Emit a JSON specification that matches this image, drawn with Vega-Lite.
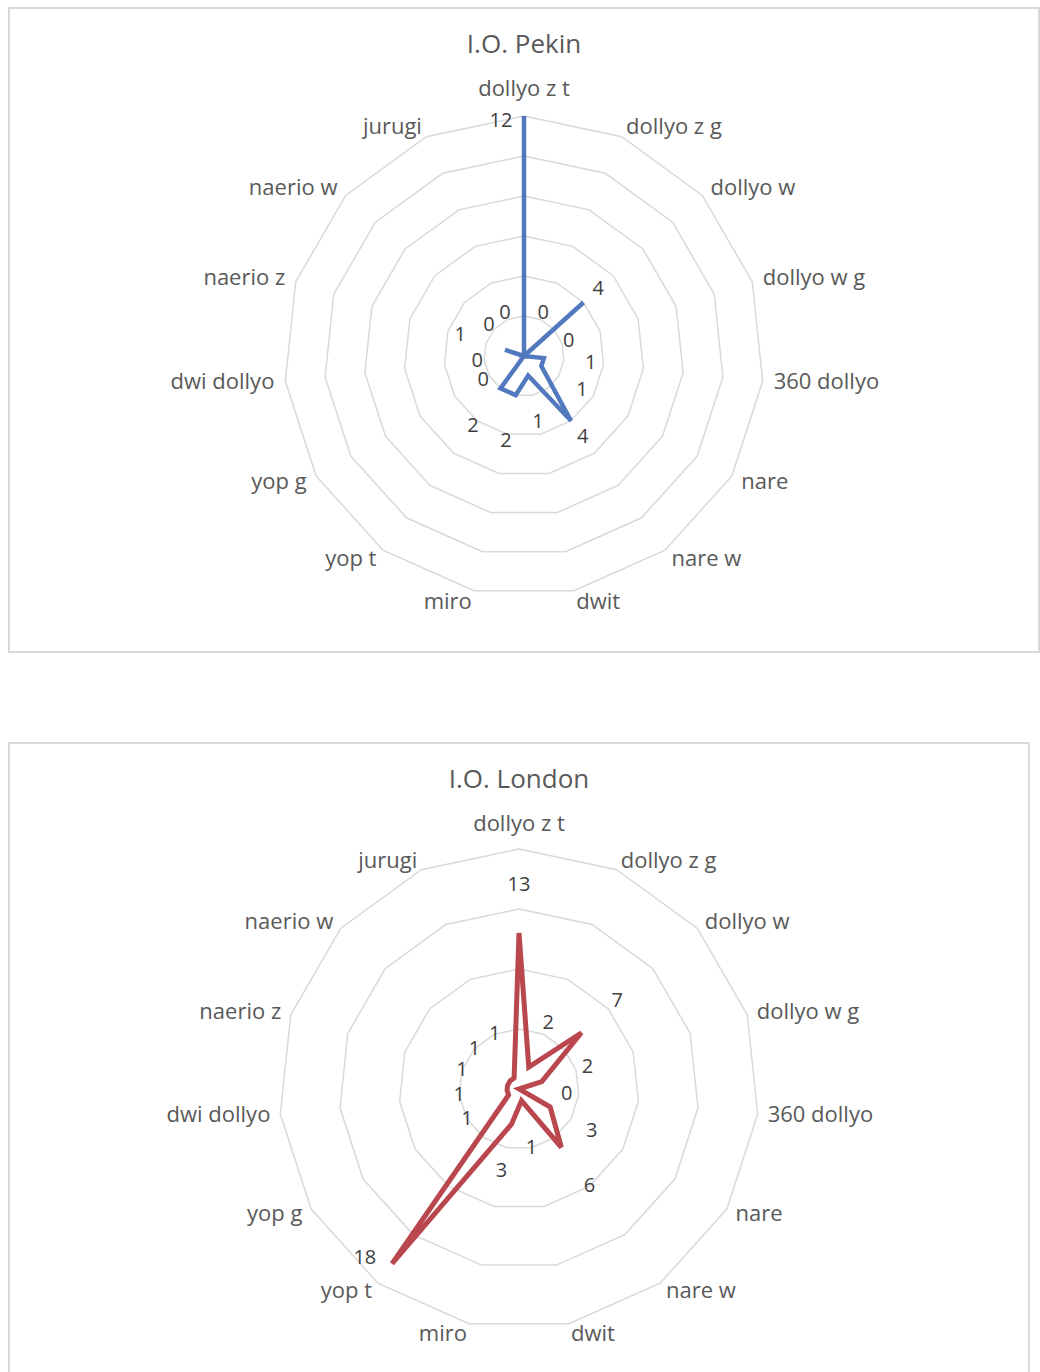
{
  "$schema": "https://vega.github.io/schema/vega-lite/v6.json",
  "padding": {"left": 8, "top": 7, "right": 0, "bottom": 0},
  "spacing": 89,
  "config": {
    "view": {"stroke": "#d9d9d9", "strokeWidth": 2},
    "font": "Open Sans",
    "title": {"fontSize": 26, "fontWeight": "normal", "color": "#595959", "font": "Open Sans"},
    "text": {"font": "Open Sans"}
  },
  "datasets": {
    "scores": [
      {"chart": "Pekin", "idx": 0, "cat": "dollyo z t", "value": 12},
      {"chart": "Pekin", "idx": 1, "cat": "dollyo z g", "value": 0},
      {"chart": "Pekin", "idx": 2, "cat": "dollyo w", "value": 4},
      {"chart": "Pekin", "idx": 3, "cat": "dollyo w g", "value": 0},
      {"chart": "Pekin", "idx": 4, "cat": "360 dollyo", "value": 1},
      {"chart": "Pekin", "idx": 5, "cat": "nare", "value": 1},
      {"chart": "Pekin", "idx": 6, "cat": "nare w", "value": 4},
      {"chart": "Pekin", "idx": 7, "cat": "dwit", "value": 1},
      {"chart": "Pekin", "idx": 8, "cat": "miro", "value": 2},
      {"chart": "Pekin", "idx": 9, "cat": "yop t", "value": 2},
      {"chart": "Pekin", "idx": 10, "cat": "yop g", "value": 0},
      {"chart": "Pekin", "idx": 11, "cat": "dwi dollyo", "value": 0},
      {"chart": "Pekin", "idx": 12, "cat": "naerio z", "value": 1},
      {"chart": "Pekin", "idx": 13, "cat": "naerio w", "value": 0},
      {"chart": "Pekin", "idx": 14, "cat": "jurugi", "value": 0},
      {"chart": "London", "idx": 0, "cat": "dollyo z t", "value": 13},
      {"chart": "London", "idx": 1, "cat": "dollyo z g", "value": 2},
      {"chart": "London", "idx": 2, "cat": "dollyo w", "value": 7},
      {"chart": "London", "idx": 3, "cat": "dollyo w g", "value": 2},
      {"chart": "London", "idx": 4, "cat": "360 dollyo", "value": 0},
      {"chart": "London", "idx": 5, "cat": "nare", "value": 3},
      {"chart": "London", "idx": 6, "cat": "nare w", "value": 6},
      {"chart": "London", "idx": 7, "cat": "dwit", "value": 1},
      {"chart": "London", "idx": 8, "cat": "miro", "value": 3},
      {"chart": "London", "idx": 9, "cat": "yop t", "value": 18},
      {"chart": "London", "idx": 10, "cat": "yop g", "value": 1},
      {"chart": "London", "idx": 11, "cat": "dwi dollyo", "value": 1},
      {"chart": "London", "idx": 12, "cat": "naerio z", "value": 1},
      {"chart": "London", "idx": 13, "cat": "naerio w", "value": 1},
      {"chart": "London", "idx": 14, "cat": "jurugi", "value": 1}
    ],
    "rings": [
      {"chart": "Pekin", "level": 2, "idx": [0,1,2,3,4,5,6,7,8,9,10,11,12,13,14]},
      {"chart": "Pekin", "level": 4, "idx": [0,1,2,3,4,5,6,7,8,9,10,11,12,13,14]},
      {"chart": "Pekin", "level": 6, "idx": [0,1,2,3,4,5,6,7,8,9,10,11,12,13,14]},
      {"chart": "Pekin", "level": 8, "idx": [0,1,2,3,4,5,6,7,8,9,10,11,12,13,14]},
      {"chart": "Pekin", "level": 10, "idx": [0,1,2,3,4,5,6,7,8,9,10,11,12,13,14]},
      {"chart": "Pekin", "level": 12, "idx": [0,1,2,3,4,5,6,7,8,9,10,11,12,13,14]},
      {"chart": "London", "level": 5, "idx": [0,1,2,3,4,5,6,7,8,9,10,11,12,13,14]},
      {"chart": "London", "level": 10, "idx": [0,1,2,3,4,5,6,7,8,9,10,11,12,13,14]},
      {"chart": "London", "level": 15, "idx": [0,1,2,3,4,5,6,7,8,9,10,11,12,13,14]},
      {"chart": "London", "level": 20, "idx": [0,1,2,3,4,5,6,7,8,9,10,11,12,13,14]}
    ]
  },
  "vconcat": [
    {
      "width": 1030,
      "height": 644,
      "title": {"text": "I.O. Pekin", "offset": -50, "anchor": "middle"},
      "layer": [
        {
          "data": {"name": "rings"},
          "transform": [
            {"filter": "datum.chart == 'Pekin'"},
            {"flatten": ["idx"]},
            {"calculate": "datum.idx * 2 * PI / 15", "as": "a"},
            {"calculate": "datum.level * 20 * sin(datum.a)", "as": "x"},
            {"calculate": "datum.level * 20 * cos(datum.a)", "as": "y"}
          ],
          "mark": {"type": "line", "interpolate": "linear-closed", "stroke": "#d9d9d9", "strokeWidth": 1.5},
          "encoding": {
            "x": {"field": "x", "type": "quantitative", "scale": {"domain": [-515, 515], "nice": false, "zero": false}, "axis": null},
            "y": {"field": "y", "type": "quantitative", "scale": {"domain": [-296, 348], "nice": false, "zero": false}, "axis": null},
            "detail": {"field": "level"},
            "order": {"field": "idx"}
          }
        },
        {
          "data": {"name": "scores"},
          "transform": [
            {"filter": "datum.chart == 'Pekin'"},
            {"calculate": "datum.idx * 2 * PI / 15", "as": "a"},
            {"calculate": "datum.value * 20 * sin(datum.a)", "as": "x"},
            {"calculate": "datum.value * 20 * cos(datum.a)", "as": "y"}
          ],
          "mark": {"type": "line", "interpolate": "linear-closed", "stroke": "#5279BE", "strokeWidth": 4.5},
          "encoding": {
            "x": {"field": "x", "type": "quantitative", "axis": null},
            "y": {"field": "y", "type": "quantitative", "axis": null},
            "order": {"field": "idx"}
          }
        },
        {
          "data": {"name": "scores"},
          "transform": [
            {"filter": "datum.chart == 'Pekin' && datum.idx == 0"},
            {"calculate": "0", "as": "x"},
            {"calculate": "267", "as": "y"}
          ],
          "mark": {"type": "text", "align": "center", "baseline": "middle", "fontSize": 22, "color": "#595959"},
          "encoding": {
            "x": {"field": "x", "type": "quantitative"},
            "y": {"field": "y", "type": "quantitative"},
            "text": {"field": "cat"}
          }
        },
        {
          "data": {"name": "scores"},
          "transform": [
            {"filter": "datum.chart == 'Pekin' && datum.idx > 0 && datum.idx < 8"},
            {"calculate": "datum.idx * 2 * PI / 15", "as": "a"},
            {"calculate": "251 * sin(datum.a)", "as": "x"},
            {"calculate": "251 * cos(datum.a)", "as": "y"}
          ],
          "mark": {"type": "text", "align": "left", "baseline": "middle", "fontSize": 22, "color": "#595959"},
          "encoding": {
            "x": {"field": "x", "type": "quantitative"},
            "y": {"field": "y", "type": "quantitative"},
            "text": {"field": "cat"}
          }
        },
        {
          "data": {"name": "scores"},
          "transform": [
            {"filter": "datum.chart == 'Pekin' && datum.idx >= 8"},
            {"calculate": "datum.idx * 2 * PI / 15", "as": "a"},
            {"calculate": "251 * sin(datum.a)", "as": "x"},
            {"calculate": "251 * cos(datum.a)", "as": "y"}
          ],
          "mark": {"type": "text", "align": "right", "baseline": "middle", "fontSize": 22, "color": "#595959"},
          "encoding": {
            "x": {"field": "x", "type": "quantitative"},
            "y": {"field": "y", "type": "quantitative"},
            "text": {"field": "cat"}
          }
        },
        {
          "data": {"name": "scores"},
          "transform": [
            {"filter": "datum.chart == 'Pekin'"},
            {"calculate": "datum.idx * 2 * PI / 15 + (datum.value >= 12 ? -0.098 : 0)", "as": "a"},
            {"calculate": "datum.value <= 2 ? datum.value * 20 + 47 : (datum.value <= 4 ? datum.value * 20 + 20 : datum.value * 20 - 4)", "as": "lr"},
            {"calculate": "datum.lr * sin(datum.a)", "as": "x"},
            {"calculate": "datum.lr * cos(datum.a)", "as": "y"}
          ],
          "mark": {"type": "text", "align": "center", "baseline": "middle", "fontSize": 20, "color": "#404040"},
          "encoding": {
            "x": {"field": "x", "type": "quantitative"},
            "y": {"field": "y", "type": "quantitative"},
            "text": {"field": "value", "type": "quantitative"}
          }
        }
      ]
    },
    {
      "width": 1020,
      "height": 632,
      "title": {"text": "I.O. London", "offset": -50, "anchor": "middle"},
      "layer": [
        {
          "data": {"name": "rings"},
          "transform": [
            {"filter": "datum.chart == 'London'"},
            {"flatten": ["idx"]},
            {"calculate": "datum.idx * 2 * PI / 15", "as": "a"},
            {"calculate": "datum.level * 12 * sin(datum.a)", "as": "x"},
            {"calculate": "datum.level * 12 * cos(datum.a)", "as": "y"}
          ],
          "mark": {"type": "line", "interpolate": "linear-closed", "stroke": "#d9d9d9", "strokeWidth": 1.5},
          "encoding": {
            "x": {"field": "x", "type": "quantitative", "scale": {"domain": [-510, 510], "nice": false, "zero": false}, "axis": null},
            "y": {"field": "y", "type": "quantitative", "scale": {"domain": [-286, 346], "nice": false, "zero": false}, "axis": null},
            "detail": {"field": "level"},
            "order": {"field": "idx"}
          }
        },
        {
          "data": {"name": "scores"},
          "transform": [
            {"filter": "datum.chart == 'London'"},
            {"calculate": "datum.idx * 2 * PI / 15", "as": "a"},
            {"calculate": "datum.value * 12 * sin(datum.a)", "as": "x"},
            {"calculate": "datum.value * 12 * cos(datum.a)", "as": "y"}
          ],
          "mark": {"type": "line", "interpolate": "linear-closed", "stroke": "#B9474D", "strokeWidth": 5},
          "encoding": {
            "x": {"field": "x", "type": "quantitative", "axis": null},
            "y": {"field": "y", "type": "quantitative", "axis": null},
            "order": {"field": "idx"}
          }
        },
        {
          "data": {"name": "scores"},
          "transform": [
            {"filter": "datum.chart == 'London' && datum.idx == 0"},
            {"calculate": "0", "as": "x"},
            {"calculate": "265", "as": "y"}
          ],
          "mark": {"type": "text", "align": "center", "baseline": "middle", "fontSize": 22, "color": "#595959"},
          "encoding": {
            "x": {"field": "x", "type": "quantitative"},
            "y": {"field": "y", "type": "quantitative"},
            "text": {"field": "cat"}
          }
        },
        {
          "data": {"name": "scores"},
          "transform": [
            {"filter": "datum.chart == 'London' && datum.idx > 0 && datum.idx < 8"},
            {"calculate": "datum.idx * 2 * PI / 15", "as": "a"},
            {"calculate": "250 * sin(datum.a)", "as": "x"},
            {"calculate": "250 * cos(datum.a)", "as": "y"}
          ],
          "mark": {"type": "text", "align": "left", "baseline": "middle", "fontSize": 22, "color": "#595959"},
          "encoding": {
            "x": {"field": "x", "type": "quantitative"},
            "y": {"field": "y", "type": "quantitative"},
            "text": {"field": "cat"}
          }
        },
        {
          "data": {"name": "scores"},
          "transform": [
            {"filter": "datum.chart == 'London' && datum.idx >= 8"},
            {"calculate": "datum.idx * 2 * PI / 15", "as": "a"},
            {"calculate": "250 * sin(datum.a)", "as": "x"},
            {"calculate": "250 * cos(datum.a)", "as": "y"}
          ],
          "mark": {"type": "text", "align": "right", "baseline": "middle", "fontSize": 22, "color": "#595959"},
          "encoding": {
            "x": {"field": "x", "type": "quantitative"},
            "y": {"field": "y", "type": "quantitative"},
            "text": {"field": "cat"}
          }
        },
        {
          "data": {"name": "scores"},
          "transform": [
            {"filter": "datum.chart == 'London'"},
            {"calculate": "datum.idx * 2 * PI / 15 + (datum.value >= 18 ? 0.11 : 0)", "as": "a"},
            {"calculate": "min(datum.value * 12 + 48, 229)", "as": "lr"},
            {"calculate": "datum.lr * sin(datum.a)", "as": "x"},
            {"calculate": "datum.lr * cos(datum.a)", "as": "y"}
          ],
          "mark": {"type": "text", "align": "center", "baseline": "middle", "fontSize": 20, "color": "#404040"},
          "encoding": {
            "x": {"field": "x", "type": "quantitative"},
            "y": {"field": "y", "type": "quantitative"},
            "text": {"field": "value", "type": "quantitative"}
          }
        }
      ]
    }
  ]
}
